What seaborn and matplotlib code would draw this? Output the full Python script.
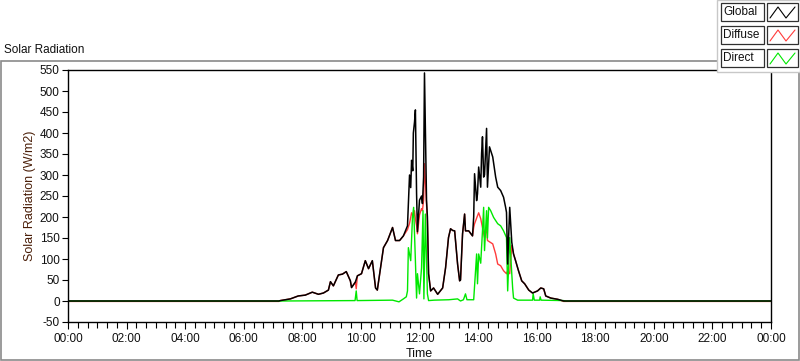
import matplotlib
matplotlib.use("Agg")
import matplotlib.pyplot as plt
from matplotlib.patches import Rectangle
from matplotlib.lines import Line2D
from matplotlib.ticker import MultipleLocator, FuncFormatter
import seaborn as sns

sns.set_style("white")
plt.rcParams['font.family'] = ['Liberation Sans', 'DejaVu Sans']
plt.rcParams['axes.unicode_minus'] = False

# time in hours of the day, values in W/m2
global_t = [0.0, 7.20, 7.25, 7.59, 7.86, 8.10, 8.34, 8.55, 8.72, 8.89, 8.96, 9.06, 9.23, 9.37,
            9.50, 9.64, 9.68, 9.81, 9.88, 10.02, 10.15, 10.26, 10.39, 10.50, 10.56, 10.67,
            10.77, 10.91, 11.08, 11.18, 11.32, 11.45, 11.59, 11.66, 11.70, 11.73, 11.77, 11.79,
            11.83, 11.86, 11.90, 11.93, 12.00, 12.07, 12.10, 12.14, 12.17, 12.24, 12.27, 12.31,
            12.38, 12.48, 12.62, 12.79, 12.89, 12.99, 13.06, 13.13, 13.20, 13.30, 13.37, 13.40,
            13.47, 13.54, 13.57, 13.68, 13.81, 13.85, 13.88, 13.95, 13.98, 14.02, 14.09, 14.12,
            14.15, 14.19, 14.22, 14.29, 14.32, 14.39, 14.50, 14.60, 14.67, 14.77, 14.87, 14.94,
            14.97, 15.01, 15.08, 15.15, 15.21, 15.28, 15.38, 15.49, 15.59, 15.73, 15.86, 16.03,
            16.14, 16.24, 16.31, 16.48, 16.72, 16.92, 24.0]
global_v = [0, 0, 1, 5, 12, 14, 21, 16, 19, 26, 46, 36, 62, 64,
            70, 48, 32, 45, 60, 65, 96, 77, 96, 31, 26, 79,
            127, 144, 175, 144, 144, 155, 179, 300, 270, 335, 310, 400,
            426, 455, 256, 165, 240, 250, 232, 295, 543, 240, 200, 65,
            24, 31, 16, 31, 79, 151, 172, 168, 167, 88, 48, 50,
            160, 207, 167, 167, 155, 200, 303, 239, 255, 319, 271, 351,
            391, 295, 300, 411, 271, 367, 343, 295, 271, 263, 247, 223,
            211, 88, 223, 140, 112, 96, 72, 48, 41, 26, 19, 24,
            31, 29, 12, 7, 4, 0, 0]

diffuse_t = [0.0, 7.20, 7.25, 7.59, 7.86, 8.10, 8.34, 8.55, 8.72, 8.89, 8.96, 9.06, 9.23, 9.37,
             9.50, 9.64, 9.68, 9.81, 9.84, 9.88, 10.02, 10.15, 10.26, 10.39, 10.50, 10.56, 10.67,
             10.77, 10.91, 11.08, 11.18, 11.32, 11.45, 11.59, 11.66, 11.73, 11.79, 11.83, 11.86,
             11.90, 11.93, 12.00, 12.07, 12.10, 12.14, 12.17, 12.24, 12.27, 12.31,
             12.38, 12.48, 12.62, 12.79, 12.89, 12.99, 13.06, 13.13, 13.20, 13.30, 13.37, 13.40,
             13.47, 13.54, 13.57, 13.68, 13.81, 13.85, 13.88, 13.98, 14.02, 14.09, 14.15, 14.22,
             14.29, 14.32, 14.50, 14.60, 14.67, 14.77, 14.87, 14.97, 15.01, 15.08, 15.15, 15.21,
             15.28, 15.38, 15.49, 15.59, 15.73, 15.86, 16.03, 16.14, 16.24, 16.31, 16.48, 16.72,
             16.92, 24.0]
diffuse_v = [-1, -1, 1, 5, 12, 14, 21, 16, 19, 26, 46, 36, 62, 64,
             70, 48, 32, 45, 29, 60, 65, 96, 77, 96, 31, 26, 79,
             127, 144, 175, 144, 144, 155, 170, 185, 210, 200, 215, 195,
             180, 160, 205, 220, 215, 240, 327, 230, 190, 65,
             24, 31, 16, 31, 79, 151, 172, 168, 167, 88, 48, 50,
             160, 207, 167, 167, 155, 175, 184, 203, 210, 196, 175, 151,
             175, 144, 136, 112, 88, 84, 72, 65, 72, 65, 132, 112,
             96, 72, 48, 41, 26, 19, 24, 31, 29, 12, 7, 4,
             -1, -1]

direct_t = [0.0, 7.25, 9.80, 9.84, 9.87, 11.08, 11.30, 11.45, 11.55, 11.59, 11.62, 11.70, 11.76,
            11.80, 11.86, 11.90, 11.93, 12.00, 12.07, 12.12, 12.15, 12.20, 12.27, 12.31, 12.50,
            13.00, 13.30, 13.40, 13.50, 13.57, 13.62, 13.85, 13.95, 13.98, 14.02, 14.09, 14.15,
            14.19, 14.22, 14.29, 14.32, 14.36, 14.43, 14.53, 14.67, 14.77, 14.87, 14.97, 15.01,
            15.08, 15.15, 15.18, 15.21, 15.35, 15.86, 15.88, 15.92, 16.10, 16.12, 16.15, 16.92,
            17.0, 24.0]
direct_v = [0, 0, 1, 24, 1, 2, -2, 5, 10, 24, 127, 96, 199,
            223, 96, 7, 65, 17, 79, 215, 5, 207, 17, 1, 2,
            3, 5, 0, 3, 17, 3, 3, 112, 41, 112, 90, 167,
            223, 120, 215, 150, 223, 215, 199, 184, 179, 167, 151, 24,
            151, 65, 31, 7, 2, 2, 17, 2, 2, 10, 2, 1,
            0, 0]

hour_ticks = list(range(0, 25, 2))

fig = plt.figure(figsize=(8, 3.61), dpi=100)
W, H = 800, 361


def fx(px):
    return px / W


def fy(py):
    return 1 - py / H


# outer panel frame
fig.patches.append(Rectangle((fx(0.5), fy(360)), fx(798), fy(61) - fy(360),
                             transform=fig.transFigure, fill=False,
                             edgecolor='#8a8a8a', lw=1.2))

ax = fig.add_axes([fx(68), fy(322), fx(771) - fx(68), fy(70) - fy(322)])
sns.lineplot(x=diffuse_t, y=diffuse_v, color='#ff3b3b', lw=1.0, ax=ax)
sns.lineplot(x=direct_t, y=direct_v, color='#00e800', lw=1.0, ax=ax)
sns.lineplot(x=global_t, y=global_v, color='black', lw=1.1, ax=ax)

ax.set_xlim(0, 24)
ax.set_ylim(-50, 550)
ax.set_xticks(hour_ticks)
ax.xaxis.set_minor_locator(MultipleLocator(1 / 3))
ax.xaxis.set_major_formatter(FuncFormatter(lambda v, p: '%02d:00' % (int(round(v)) % 24)))
ax.yaxis.set_major_locator(MultipleLocator(50))
ax.tick_params(axis='both', which='both', direction='out', color='black', labelsize=8.5,
               labelcolor='#101010', width=0.8)
ax.tick_params(axis='x', which='major', length=5, pad=3)
ax.tick_params(axis='x', which='minor', length=4)
ax.tick_params(axis='y', which='major', length=4, pad=2)
ax.tick_params(bottom=True, left=True, which='both')
ax.tick_params(axis='y', which='minor', left=False)
for s in ax.spines.values():
    s.set_color('black')
    s.set_linewidth(1.0)
ax.set_xlabel('Time', fontsize=9, color='#101010', labelpad=2)
ax.set_ylabel('Solar Radiation (W/m2)', fontsize=9, color='#4a1e08', labelpad=3)

fig.text(fx(4), fy(50), 'Solar Radiation', fontsize=8.5, va='center', ha='left', color='#101010')

# plot legend panel (top right)
fig.patches.append(Rectangle((fx(717), fy(72)), fx(83), fy(0) - fy(72),
                             transform=fig.transFigure, facecolor='white',
                             edgecolor='#c8c8c8', lw=1.0))
names = ['Global', 'Diffuse', 'Direct']
colors = ['black', '#ff3b3b', '#00e800']
for i, (name, c) in enumerate(zip(names, colors)):
    top = 3 + i * 23
    bot = top + 18
    fig.patches.append(Rectangle((fx(721), fy(bot)), fx(43), fy(top) - fy(bot),
                                 transform=fig.transFigure, facecolor='white',
                                 edgecolor='#303030', lw=0.9))
    fig.patches.append(Rectangle((fx(767), fy(bot)), fx(31), fy(top) - fy(bot),
                                 transform=fig.transFigure, facecolor='white',
                                 edgecolor='#303030', lw=0.9))
    fig.text(fx(723), fy((top + bot) / 2), name, fontsize=8.5, va='center', ha='left',
             color='#101010')
    zx = [fx(770), fx(778), fx(786), fx(795)]
    zy = [fy(bot - 3), fy(top + 4), fy(bot - 3), fy(top + 4)]
    fig.lines.append(Line2D(zx, zy, transform=fig.transFigure, color=c, lw=0.8))

fig.savefig('out.png', dpi=100)
